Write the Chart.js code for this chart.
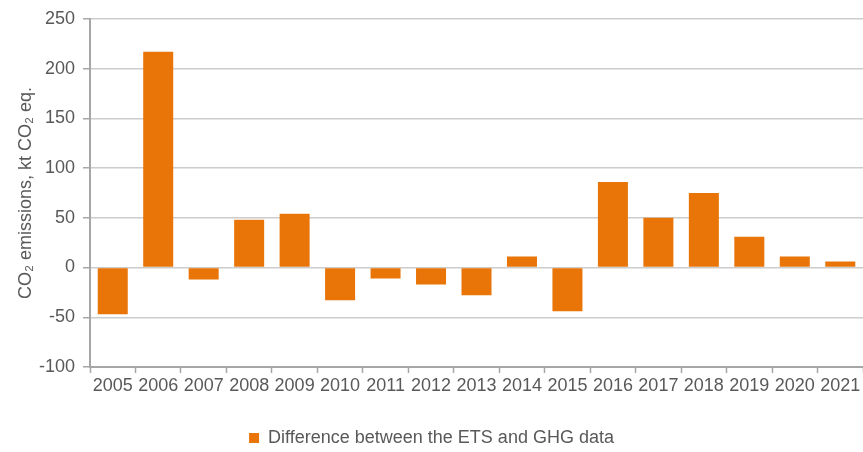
<!DOCTYPE html>
<html>
<head>
<meta charset="utf-8">
<script src="https://cdn.jsdelivr.net/npm/chart.js@4"></script>
<style>
  html, body { margin: 0; padding: 0; background: #fff; }
  #wrap { width: 863px; height: 452px; }
</style>
</head>
<body>
<div id="wrap"><canvas id="diffChart"></canvas></div>
<script>
// Data
const years = ['2005', '2006', '2007', '2008', '2009', '2010', '2011', '2012', '2013',
               '2014', '2015', '2016', '2017', '2018', '2019', '2020', '2021'];
const differences = [-47, 217, -12, 48, 54, -33, -11, -17, -28, 11, -44, 86, 50, 75, 31, 11, 6];
const seriesLabel = 'Difference between the ETS and GHG data';
const yTitle = 'CO\u2082 emissions, kt CO\u2082 eq.';

const axisGrey = '#a6a6a6';
const gridGrey = '#cccccc';
const textGrey = '#595959';
const orange = '#e97508';

Chart.defaults.font.family = '"Liberation Sans", Arial, sans-serif';
Chart.defaults.font.size = 18;
Chart.defaults.color = textGrey;

const ctx = document.getElementById('diffChart').getContext('2d');
const diffChart = new Chart(ctx, {
  type: 'bar',
  data: {
    labels: years,
    datasets: [{
      label: seriesLabel,
      data: differences,
      backgroundColor: orange,
      borderWidth: 0,
      barPercentage: 0.66,
      categoryPercentage: 1.0
    }]
  },
  options: {
    responsive: true,
    maintainAspectRatio: false,
    animation: false,
    // negative bottom padding pulls the legend a bit closer to the edge
    layout: { padding: { top: 11, right: 0, bottom: -5, left: 0 } },
    plugins: {
      tooltip: { enabled: false },
      legend: {
        position: 'bottom',
        labels: {
          boxWidth: 10,
          boxHeight: 10,
          padding: 4,
          color: textGrey,
          font: { size: 18 }
        }
      }
    },
    scales: {
      x: {
        grid: {
          offset: true,
          drawOnChartArea: false,
          drawTicks: true,
          tickLength: 6,
          tickColor: axisGrey,
          tickWidth: 1.5
        },
        border: { display: true, color: axisGrey, width: 2 },
        ticks: { padding: 2, maxRotation: 0, autoSkip: false, color: textGrey },
        afterFit: function (scale) { scale.height = 58; }
      },
      y: {
        min: -100,
        max: 250,
        ticks: { stepSize: 50, padding: 8, color: textGrey },
        grid: {
          color: gridGrey,
          lineWidth: 1.5,
          tickLength: 7,
          tickColor: axisGrey
        },
        border: { display: true, color: axisGrey, width: 2 },
        title: {
          display: true,
          text: yTitle,
          color: textGrey,
          font: { size: 18 },
          padding: { top: 15, bottom: 0 }
        },
        afterFit: function (scale) { scale.width = 90; }
      }
    }
  }
});
</script>
</body>
</html>
